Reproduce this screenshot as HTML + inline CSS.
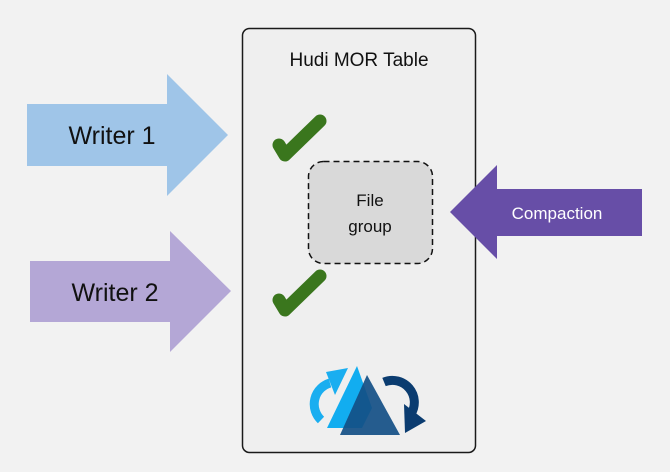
<!DOCTYPE html>
<html><head><style>
html,body{margin:0;padding:0;background:#f2f2f2;}
svg{display:block;}
text{font-family:"Liberation Sans","DejaVu Sans",sans-serif;}
</style></head><body>
<svg width="670" height="472" viewBox="0 0 670 472" xmlns="http://www.w3.org/2000/svg">
<rect width="670" height="472" fill="#f2f2f2"/>
<rect x="242.5" y="28.5" width="233" height="424" rx="7" fill="#efefef" stroke="#1a1a1a" stroke-width="1.5"/>
<text x="359" y="66" font-size="19" text-anchor="middle" fill="#111">Hudi MOR Table</text>
<polygon points="27,104 167,104 167,74 228,135 167,196 167,166 27,166" fill="#9fc5e8"/>
<text x="112" y="144" font-size="25" text-anchor="middle" fill="#111">Writer 1</text>
<polygon points="30,261 170,261 170,231 231,291 170,352 170,322 30,322" fill="#b4a7d6"/>
<text x="115" y="301" font-size="25" text-anchor="middle" fill="#111">Writer 2</text>
<polygon points="450,212 497,165 497,189 642,189 642,236 497,236 497,259" fill="#674ea7"/>
<text x="557" y="219" font-size="17" text-anchor="middle" fill="#fff">Compaction</text>
<rect x="308.5" y="161.5" width="124" height="102" rx="15" fill="#d9d9d9" stroke="#111" stroke-width="1.5" stroke-dasharray="6,4"/>
<text x="370" y="206" font-size="17" text-anchor="middle" fill="#111">File</text>
<text x="370" y="232" font-size="17" text-anchor="middle" fill="#111">group</text>
<path d="M279,145 L285,155 L320,121" fill="none" stroke="#3a761d" stroke-width="13" stroke-linecap="round" stroke-linejoin="round"/>
<path d="M279,300 L285,310 L320,276" fill="none" stroke="#3a761d" stroke-width="13" stroke-linecap="round" stroke-linejoin="round"/>
<path d="M321,420 A22,22 0 0 1 330,383" fill="none" stroke="#1aaef0" stroke-width="9"/>
<polygon points="326,372 348,368 335,395" fill="#1aaef0"/>
<polygon points="357,366 327,428 362,428 372,408" fill="#12adf0"/>
<path d="M384,382 A22,22 0 0 1 411,414" fill="none" stroke="#0b3c70" stroke-width="9"/>
<polygon points="404,404 426,421 405,433" fill="#0b3c70"/>
<polygon points="367,375 340,435 400,435" fill="#134f86" opacity="0.92"/>
</svg>
</body></html>
